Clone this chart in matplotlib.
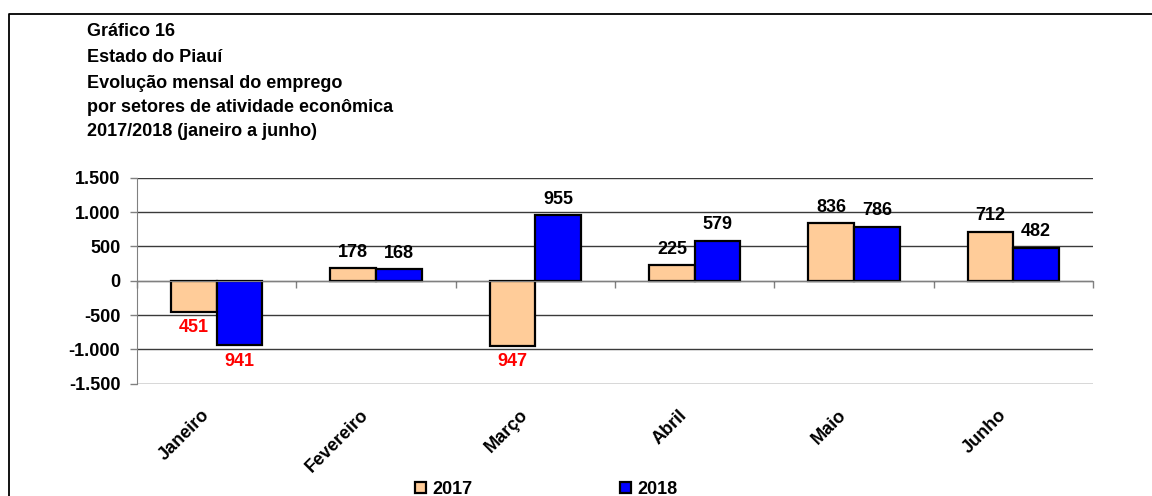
import numpy as np
import matplotlib.pyplot as plt
from matplotlib.lines import Line2D
from matplotlib.ticker import FuncFormatter
import matplotlib.transforms as mtransforms

plt.rcParams['font.family'] = ['Liberation Sans', 'DejaVu Sans']
plt.rcParams['font.weight'] = 'bold'

title_lines = ['Gráfico 16', 'Estado do Piauí', 'Evolução mensal do emprego',
               'por setores de atividade econômica', '2017/2018 (janeiro a junho)']
months = ['Janeiro', 'Fevereiro', 'Março', 'Abril', 'Maio', 'Junho']
series_names = ['2017', '2018']
values_2017 = [-451, 178, -947, 225, 836, 712]
values_2018 = [-941, 168, 955, 579, 786, 482]
colors = ['#FFCC99', '#0000FF']
yticks = [-1500, -1000, -500, 0, 500, 1000, 1500]

W, H = 1152, 496
fig = plt.figure(figsize=(W / 100, H / 100), dpi=100)
ax = fig.add_axes([137 / W, 1 - 383.7 / H, (1093 - 137) / W, (383.7 - 177.7) / H])

# outer frame (only top and left edges visible in the picture)
fig.add_artist(Line2D([9 / W, 9 / W, 1.2], [-0.2, 1 - 14 / H, 1 - 14 / H],
                      transform=fig.transFigure, color='black', lw=1.3))

y_title = [32, 58, 83, 107, 131]
for line, yp in zip(title_lines, y_title):
    fig.text(87 / W, 1 - yp / H, line, fontsize=13, fontweight='bold', va='center', ha='left')

x = np.arange(len(months)) + 0.5
bw = 0.286
bars = []
for k, vals in enumerate([values_2017, values_2018]):
    b = ax.bar(x + (k - 0.5) * bw, vals, width=bw, color=colors[k], edgecolor='black',
               linewidth=1.6, zorder=3, label=series_names[k])
    bars.append(b)
    for xi, v in zip(x + (k - 0.5) * bw, vals):
        if v >= 0:
            ax.annotate(str(v), (xi, v), xytext=(0, 11.5), textcoords='offset points',
                        ha='center', va='center', fontsize=13, fontweight='bold', color='black')
        else:
            ax.annotate(str(-v), (xi, v), xytext=(0, -11.5), textcoords='offset points',
                        ha='center', va='center', fontsize=13, fontweight='bold', color='#FF0000')

ax.set_xlim(0, len(months))
ax.set_ylim(-1500, 1500)
ax.set_yticks(yticks)
ax.yaxis.set_major_formatter(FuncFormatter(lambda v, p: f'{int(v):,}'.replace(',', '.')))
ax.grid(axis='y', color='#3a3a3a', lw=1.0, zorder=0)
ax.tick_params(axis='y', direction='out', length=5, width=1, color='#808080', pad=7,
               labelsize=13)
for lab in ax.get_yticklabels():
    lab.set_fontweight('bold')

for s in ['top', 'right']:
    ax.spines[s].set_visible(False)
ax.spines['left'].set_color('#808080')
ax.spines['bottom'].set_position(('data', 0))
ax.spines['bottom'].set_color('#808080')
ax.spines['bottom'].set_zorder(4)
ax.set_xticks(np.arange(len(months) + 1))
ax.tick_params(axis='x', direction='out', length=5, width=1, color='#808080', labelbottom=False)

trans = mtransforms.blended_transform_factory(ax.transData, ax.transAxes)
for xi, m in zip(x, months):
    ax.annotate(m, (xi, 0), xycoords=trans, xytext=(-10, -29), textcoords='offset pixels',
                rotation=45, rotation_mode='anchor', ha='right', va='center',
                fontsize=13, fontweight='bold', annotation_clip=False)

fig.legend(handles=bars, labels=series_names, loc='upper left',
           bbox_to_anchor=(415 / W, 1 - 481 / H), ncol=2, frameon=False,
           borderpad=0, borderaxespad=0, handlelength=0.6, handleheight=0.6,
           handletextpad=0.35, columnspacing=8.2, prop={'size': 13, 'weight': 'bold'})

fig.savefig('out.png', dpi=100)
